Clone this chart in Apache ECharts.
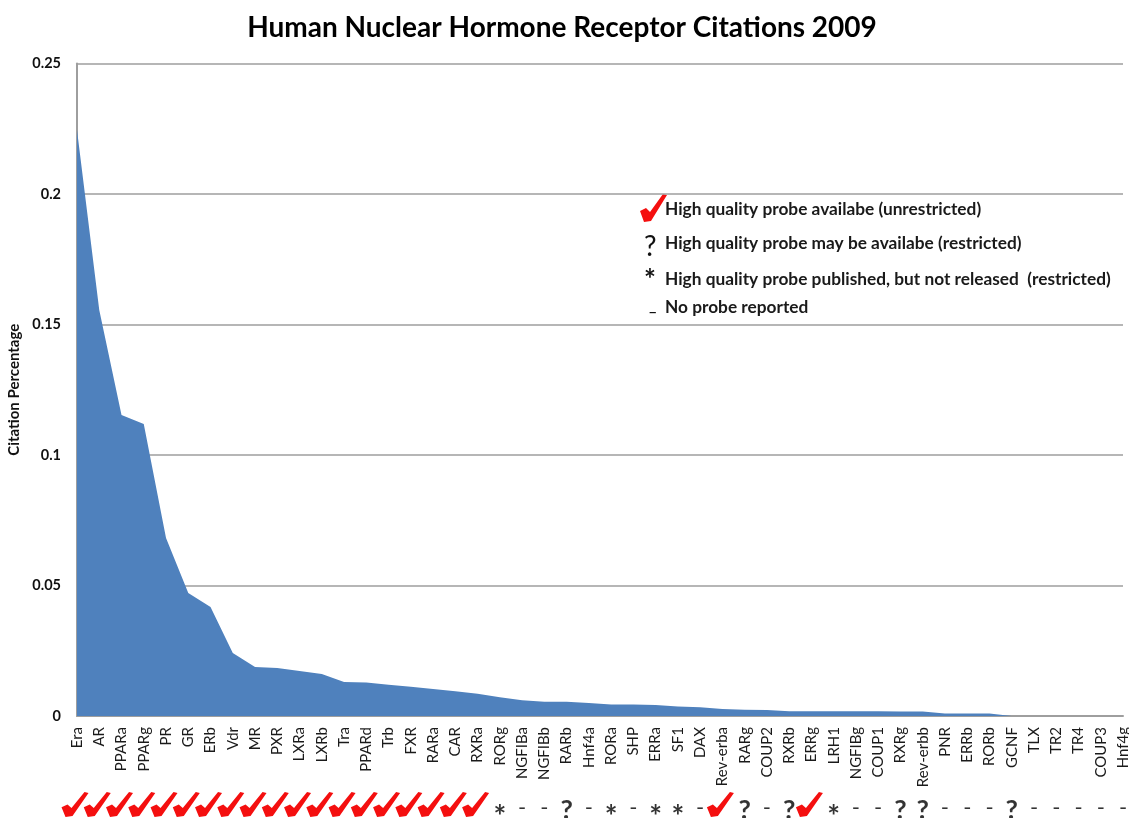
<!DOCTYPE html>
<html>
<head>
<meta charset="utf-8">
<title>Human Nuclear Hormone Receptor Citations 2009</title>
<script src="https://cdn.jsdelivr.net/npm/echarts@6/dist/echarts.min.js"></script>
<style>
  html, body { margin: 0; padding: 0; background: #fff; overflow: hidden; }
  #chart { width: 1129px; height: 818px; }
</style>
</head>
<body>
<div id="chart"></div>
<script>
const receptors = ['Era','AR','PPARa','PPARg','PR','GR','ERb','Vdr','MR','PXR','LXRa','LXRb','Tra','PPARd','Trb','FXR','RARa','CAR','RXRa','RORg','NGFIBa','NGFIBb','RARb','Hnf4a','RORa','SHP','ERRa','SF1','DAX','Rev-erba','RARg','COUP2','RXRb','ERRg','LRH1','NGFIBg','COUP1','RXRg','Rev-erbb','PNR','ERRb','RORb','GCNF','TLX','TR2','TR4','COUP3','Hnf4g'];
const citations = [0.2245,0.1556,0.1153,0.1119,0.0682,0.0471,0.0418,0.0241,0.0188,0.0184,0.0172,0.0161,0.0130,0.0128,0.0120,0.0112,0.0103,0.0095,0.0085,0.0072,0.0060,0.0055,0.0055,0.0050,0.0044,0.0044,0.0042,0.0036,0.0034,0.0027,0.0024,0.0023,0.0018,0.0018,0.0018,0.0018,0.0018,0.0017,0.0017,0.0010,0.0010,0.0010,0,0,0,0,0,0];
// c = check, q = question mark, s = star, d = dash
const probes = ['c','c','c','c','c','c','c','c','c','c','c','c','c','c','c','c','c','c','c','s','d','d','q','d','s','d','s','s','d','c','q','d','q','c','s','d','d','q','q','d','d','d','q','d','d','d','d','d'];
const legendRows = ['High quality probe availabe (unrestricted)','High quality probe may be availabe (restricted)','High quality probe published, but not released  (restricted)','No probe reported'];

const font = 'Lato';
const checkPoints = [[0,17],[6,14],[10,18],[23,0],[27,1],[11,27],[4,28]];
const checkPath = 'M' + checkPoints.map(p => p.join(' ')).join(' L') + ' Z';

const pick = (code) => receptors.map((r, i) => probes[i] === code ? [r, 0] : null).filter(Boolean);

const textMarks = (code, text, size, weight, offsetY) => ({
  type: 'scatter', xAxisIndex: 1, yAxisIndex: 1, clip: false, silent: true,
  symbolSize: 0, data: pick(code),
  label: { show: true, position: 'inside', formatter: text, color: '#000', offset: [0, offsetY],
    fontFamily: font, fontSize: size, fontWeight: weight }
});

const legendText = (text, y) => ({
  type: 'text', left: 665, top: y - 8,
  style: { text: text, fontFamily: font, fontSize: 17.3, fontWeight: 'bold', fill: '#1a1a1a' }
});
const legendMark = (text, x, y, size, weight) => ({
  type: 'text', left: x, top: y,
  style: { text: text, fontFamily: font, fontSize: size, fontWeight: weight, fill: '#111' }
});

const chart = echarts.init(document.getElementById('chart'), null, { renderer: 'canvas' });
chart.setOption({
  animation: false,
  backgroundColor: '#fff',
  title: {
    text: 'Human Nuclear Hormone Receptor Citations 2009',
    left: 557, top: 9, textAlign: 'center',
    textStyle: { fontFamily: font, fontSize: 28, fontWeight: 'bold', color: '#000' }
  },
  grid: [
    { left: 77, right: 6, top: 63.5, height: 652.5, outerBoundsMode: 'none' },
    { left: 77, right: 6, top: 797, height: 24, outerBoundsMode: 'none' }
  ],
  xAxis: [
    {
      type: 'category', gridIndex: 0, data: receptors, boundaryGap: false,
      axisLine: { show: true, lineStyle: { color: '#9e9e9e', width: 2 } },
      axisTick: { show: false },
      axisLabel: { interval: 0, rotate: 90, margin: 11, fontFamily: font, fontSize: 15, color: '#1a1a1a' }
    },
    { type: 'category', gridIndex: 1, data: receptors, boundaryGap: false, show: false }
  ],
  yAxis: [
    {
      type: 'value', gridIndex: 0, min: 0, max: 0.25, interval: 0.05,
      name: 'Citation Percentage', nameLocation: 'middle', nameGap: 50,
      nameTextStyle: { fontFamily: font, fontSize: 15, fontWeight: 'bold', color: '#111' },
      axisLine: { show: true, lineStyle: { color: '#9e9e9e', width: 2 } },
      axisTick: { show: false },
      axisLabel: { margin: 16, fontFamily: font, fontSize: 14.5, fontWeight: 'bold', color: '#111' },
      splitLine: { lineStyle: { color: '#9e9e9e', width: 1.5 } }
    },
    { type: 'value', gridIndex: 1, min: -1, max: 1, show: false }
  ],
  series: [
    {
      name: 'Citation Percentage', type: 'line', data: citations,
      symbol: 'none', lineStyle: { width: 0 },
      areaStyle: { color: '#4f81bd', opacity: 1 }, itemStyle: { color: '#4f81bd' }
    },
    {
      type: 'scatter', xAxisIndex: 1, yAxisIndex: 1, clip: false, silent: true,
      symbol: 'path://' + checkPath, symbolSize: [27, 25], symbolOffset: [-2, -4.5],
      data: pick('c'), itemStyle: { color: '#f40f0f', opacity: 1 }
    },
    textMarks('q', '?', 27, 'bold', 1),
    textMarks('s', '*', 30, 'bold', 8),
    textMarks('d', '-', 22, 'normal', -1)
  ],
  graphic: [
    {
      type: 'polygon', left: 640, top: 194, silent: true,
      shape: { points: checkPoints },
      style: { fill: '#f40f0f' }
    },
    legendMark('?', 644, 233, 28, 'normal'),
    legendMark('*', 644, 266, 28, 'bold'),
    legendMark('_', 649, 298, 16, 'bold'),
    legendText(legendRows[0], 209),
    legendText(legendRows[1], 243),
    legendText(legendRows[2], 279),
    legendText(legendRows[3], 307)
  ]
});
</script>
</body>
</html>
